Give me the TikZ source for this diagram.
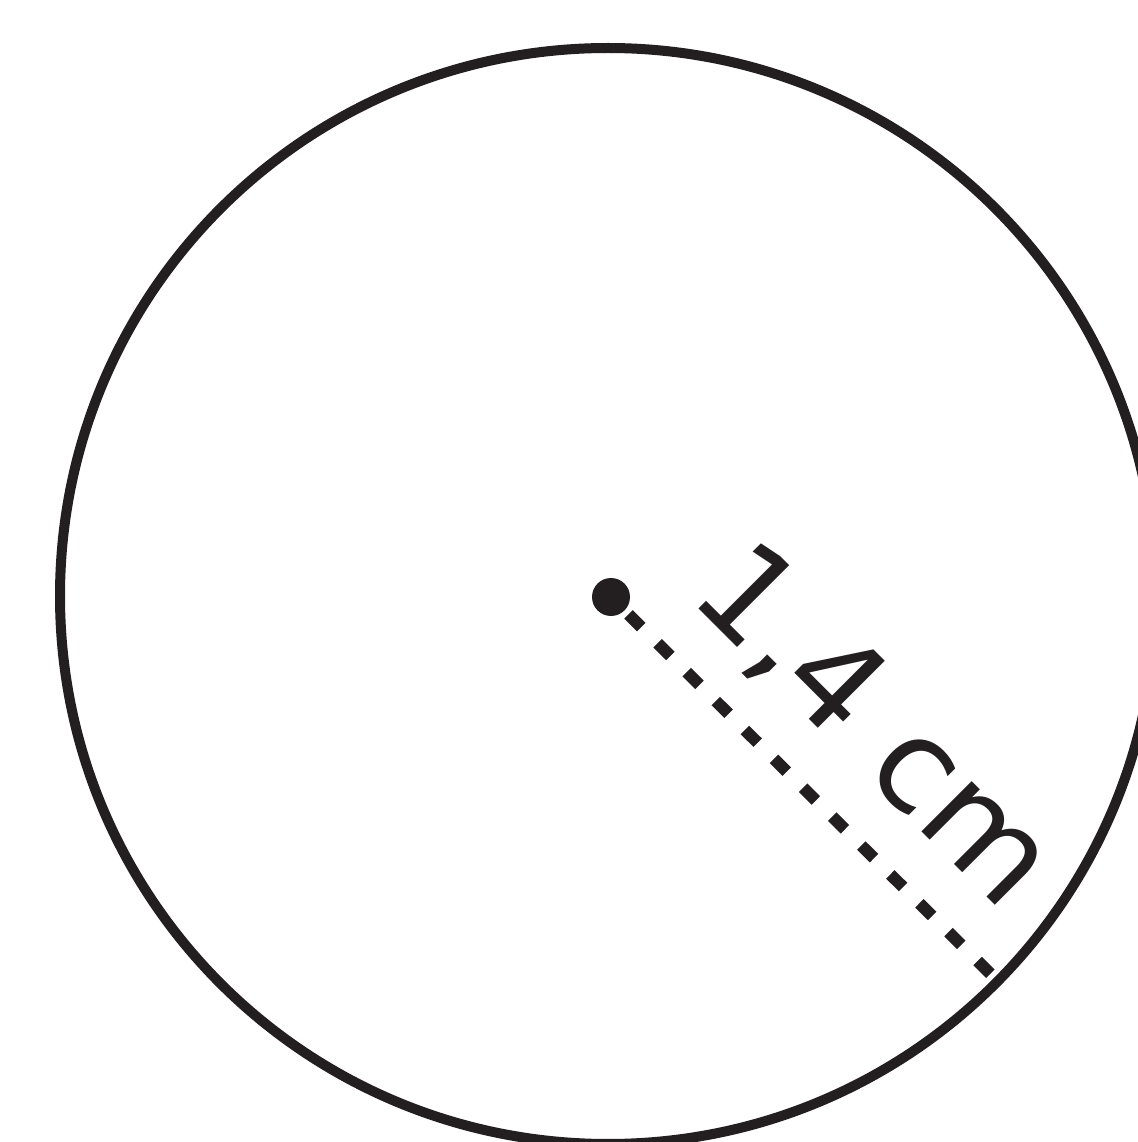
\documentclass[tikz,border=0pt]{standalone}
\usepackage{fontspec}
\setmainfont{DejaVu Sans}
\usetikzlibrary{calc}
\definecolor{ink}{HTML}{231F20}
\tikzset{
  rim/.style={draw=ink, line width=0.1cm},
  centerdot/.style={circle, fill=ink, inner sep=0pt, minimum size=0.38cm},
  radiusline/.style={draw=ink, line width=0.12cm, dash pattern=on 0.18cm off 0.23cm, dash phase=-0.05cm},
  lbl/.style={text=ink, font=\fontsize{37}{44}\selectfont, rotate=-45, anchor=base, inner sep=0pt}
}
\begin{document}
\begin{tikzpicture}
\useasboundingbox (0,0) rectangle (11.38,11.42);
\clip (0,0) rectangle (11.38,11.42);
\fill[white] (0,0) rectangle (11.38,11.42);
\coordinate (O) at (6.08,5.46);
\draw[rim] (O) circle (5.48);
\node[centerdot] (c) at (6.11,5.45) {};
\coordinate (E) at ($(c)+(-44.8:5.42)$);
\draw[radiusline] (c) -- (E);
\node[lbl] (t) at (8.45,3.87) {1,4 cm};
\end{tikzpicture}
\end{document}
